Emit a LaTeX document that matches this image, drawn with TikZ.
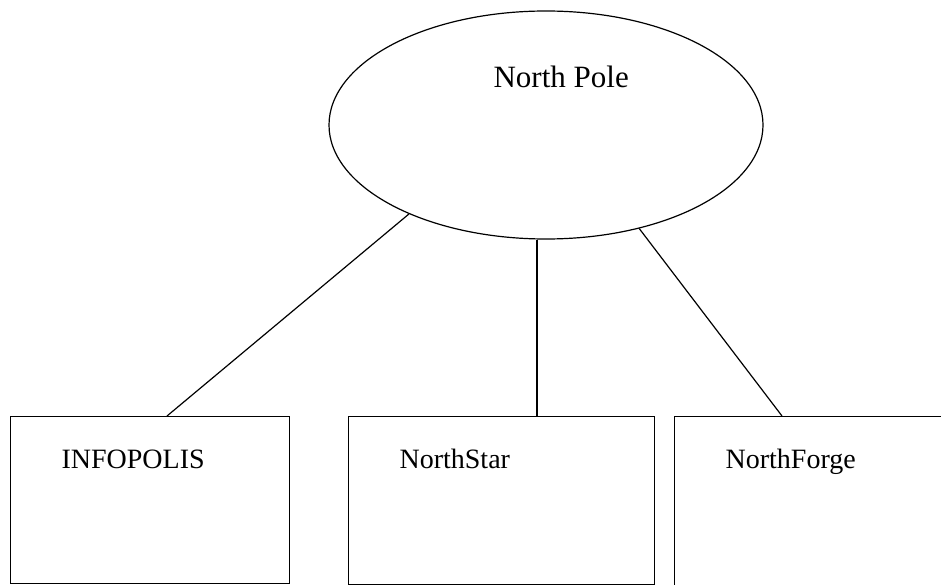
\documentclass[tikz,border=0pt]{standalone}
\usepackage{fontspec}
\setmainfont{Liberation Serif}
\usetikzlibrary{shapes.geometric,positioning}

\begin{document}
\begin{tikzpicture}[x = 1pt, y = -1pt, line width = 1.2pt,
    pole/.style = {draw, ellipse, inner sep = 0pt, minimum width = 434pt, minimum height = 228pt},
    unit/.style = {draw, rectangle, line width = 1pt, inner sep = 0pt, anchor = north west},
    unitname/.style = {anchor = base west, inner sep = 0pt, font = \fontsize{28}{32}\selectfont},
    polename/.style = {anchor = base west, inner sep = 0pt, font = \fontsize{31}{36}\selectfont}]
      \useasboundingbox (0, 0) rectangle (941, 585);
      \clip (0, 0) rectangle (941, 585);
      % the top
      \node [pole] (pole) at (546, 125) {};
      \node [polename] (polelabel) at (493, 88) {North Pole};
      % the three units
      \node [unit, minimum width = 279pt, minimum height = 167pt] (infobox) at (10, 416) {};
      \node [unit, minimum width = 306pt, minimum height = 168pt] (starbox) at (348, 416) {};
      \node [unit, minimum width = 300pt, minimum height = 200pt] (forgebox) at (674, 416) {};
      \node [unitname] (infolabel) at (61, 468) {INFOPOLIS};
      \node [unitname] (starlabel) at (399, 468) {NorthStar};
      \node [unitname] (forgelabel) at (725, 468) {NorthForge};
      \coordinate (starlink) at ([xshift = 189pt] starbox.north west);
      % links
      \draw (pole.213.8) -- ([xshift = 157pt] infobox.north west);
      \draw (starlink |- pole.south) -- (starlink);
      \draw (pole.312.4) -- ([xshift = 108pt] forgebox.north west);
    \end{tikzpicture}
\end{document}
